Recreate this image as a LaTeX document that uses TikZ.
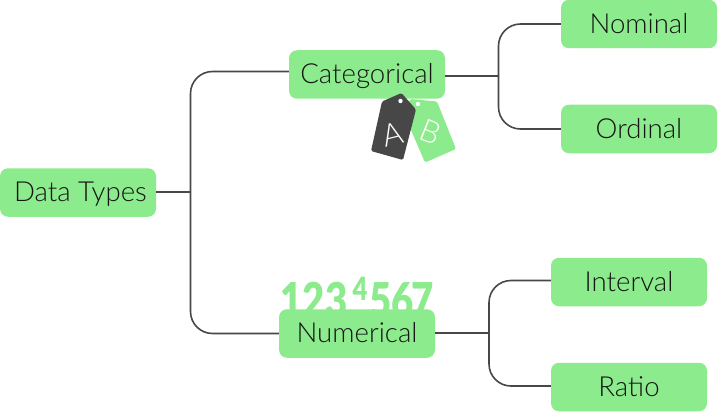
\documentclass[tikz,border=0pt]{standalone}
\usepackage{fontspec}
\setmainfont{Lato}[UprightFont=* Light,BoldFont=* Black]
\definecolor{boxgreen}{HTML}{8CEB8C}
\definecolor{tagdark}{HTML}{474747}
\definecolor{linegrey}{HTML}{474747}
\tikzset{
  box/.style={fill=boxgreen,rounded corners=8pt,minimum width=156pt,minimum height=48.5pt,inner sep=0pt,text height=19pt,text depth=.5pt,text=black!92,font=\fontsize{27.6}{30}\selectfont},
  conn/.style={draw=linegrey,line width=1.6pt,rounded corners=22pt},
  digit/.style={text=boxgreen,inner sep=0pt,font=\fontsize{48}{50}\bfseries\selectfont,xscale=.8},
  taglabel/.style={inner sep=0pt,font=\fontsize{31}{34}\selectfont}
}
\begin{document}
\begin{tikzpicture}[x=1pt,y=-1pt]
\useasboundingbox (0,0) rectangle (718,412);
% numerals behind the box
\foreach \d/\x/\y/\n in {1/292/300/a,2/314/300/b,3/337/300/c,5/381/300/e,6/403/300/f,7/423/300/g}{
  \node[digit,name=d\n] at (\x,\y) {\d};
}
\node[digit,name=dd,font=\fontsize{32}{34}\bfseries\selectfont] at (360,289) {4};
% nodes
\node[box] (types) at (78,192.5) {\hspace{5pt}Data Types};
\coordinate (split) at (190.5,192);
\node[box] (cat) at (367,74.5) {Categorical};
\node[box] (num) at (357,333.5) {Numerical};
\node[box] (nom) at (639,24) {Nominal};
\node[box] (ord) at (639,129) {Ordinal};
\node[box] (int) at (629,282) {Interval};
\node[box] (rat) at (629,387) {Ratio};
\coordinate (catin) at (cat.west |- 0,71.5);
\coordinate (nomsplit) at (498.5,76);
\coordinate (numsplit) at (489,333);
\coordinate (intin) at (int.west |- 0,280.5);
\coordinate (ratin) at (rat.west |- 0,386);
% connectors
\draw[conn] (types.east |- split) -- (split);
\draw[conn] (catin) -- (split |- catin) -- (split) -- (split |- num.west) -- (num.west);
\draw[conn] (cat.east |- nomsplit) -- (nomsplit);
\draw[conn] (nom.west) -- (nomsplit |- nom.west) -- (nomsplit |- ord.west) -- (ord.west);
\draw[conn] (num.east |- numsplit) -- (numsplit);
\draw[conn] (intin) -- (numsplit |- intin) -- (numsplit |- ratin) -- (ratin);
% tags
\fill[boxgreen,rounded corners=1.5pt] (410,99) -- (437,101.5) -- (456,149) -- (425,162.5) -- (405,116) -- cycle;
\fill[white] (418,104) circle (2.2pt);
\node[taglabel,text=white,rotate=-22] (tagb) at (431,132) {B};
\fill[tagdark,rounded corners=1.5pt] (401.5,93) -- (416,109.5) -- (403,160) -- (371,151) -- (382,101.5) -- cycle;
\fill[white] (400.5,101) circle (2.2pt);
\node[taglabel,text=white,rotate=14] (taga) at (392.5,134) {A};
\end{tikzpicture}
\end{document}
